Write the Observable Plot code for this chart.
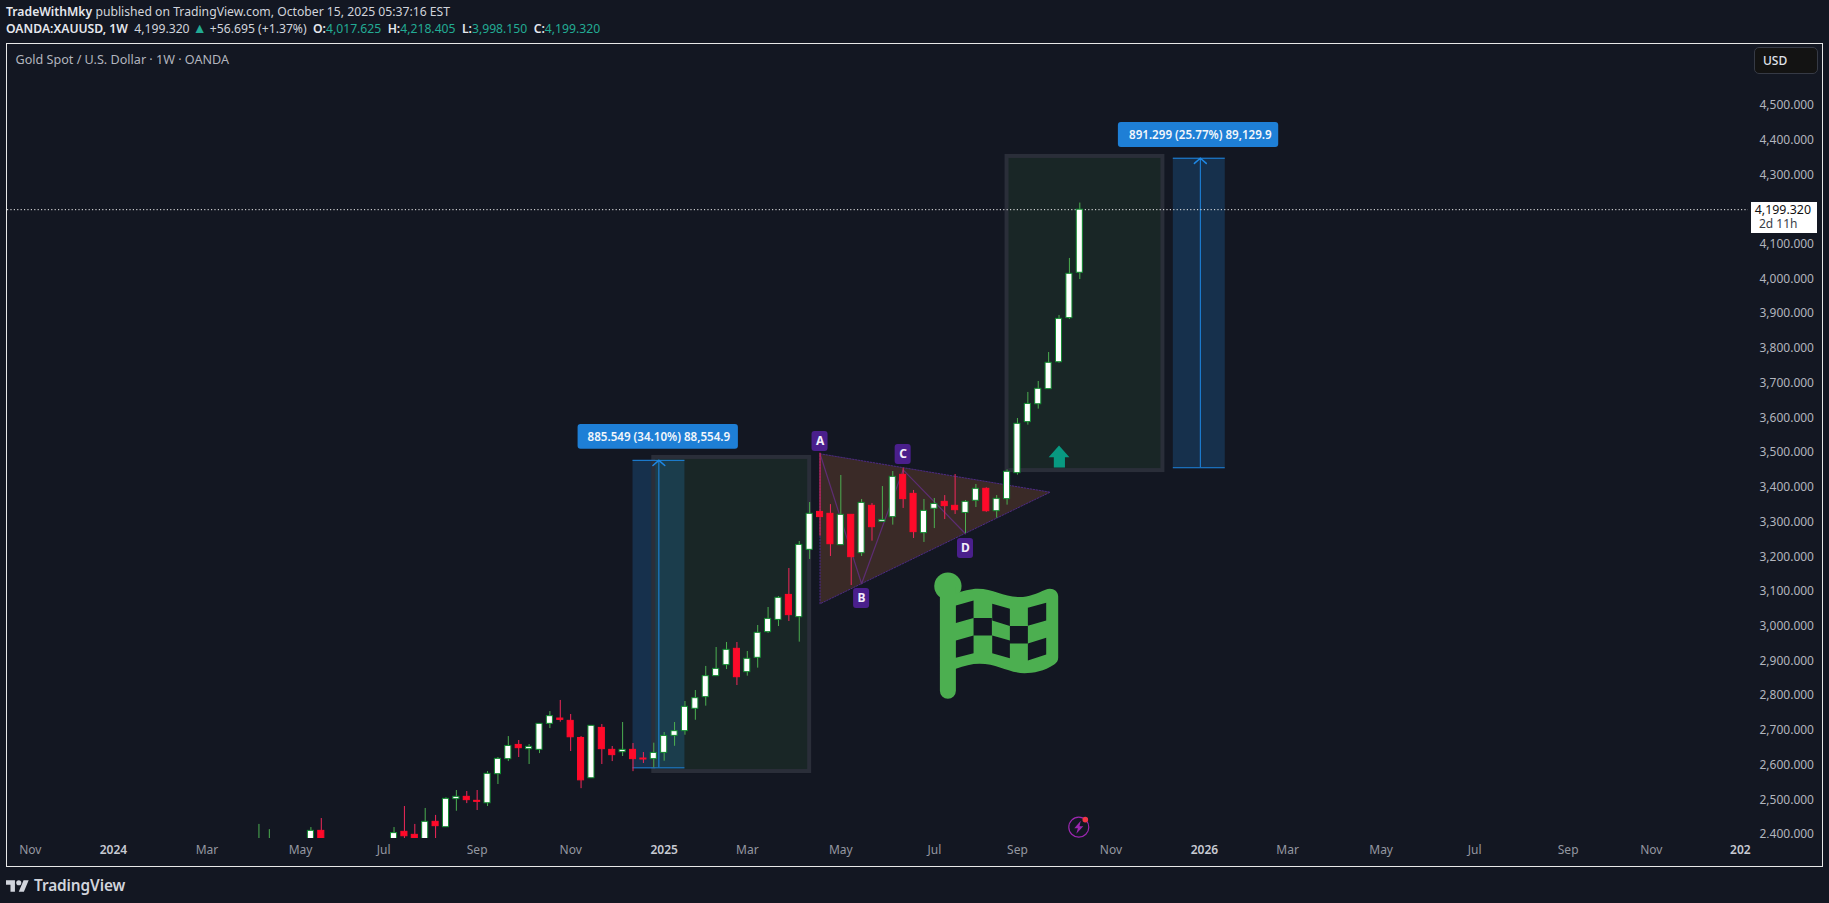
<!DOCTYPE html>
<html><head><meta charset="utf-8">
<script src="https://cdn.jsdelivr.net/npm/d3@7"></script>
<script src="https://cdn.jsdelivr.net/npm/@observablehq/plot@0.6"></script>
<style>
html,body{margin:0;padding:0;background:#131722;overflow:hidden;font-family:"Noto Sans",sans-serif}
#head{height:43px;position:relative;font-size:12.2px;color:#d1d4dc;white-space:nowrap}
#head div{position:absolute;left:6px}
#head b{font-weight:600;color:#e6e8ee}
#head .v{color:#22ab94}
#head .tri{color:#22ab94;font-size:14px;line-height:12px}
#pane{position:absolute;left:6px;top:43px;width:1815px;height:822px;border:1px solid #e8e8e8;background:#131722}
#pane svg{display:block}
.ov{position:absolute}
#foot{position:absolute;left:6px;top:875px;display:flex;align-items:center;color:#d1d4dc;font-size:15.4px;font-weight:600;letter-spacing:-.1px}
</style></head><body>
<div id="head">
<div style="top:3px"><b>TradeWithMky</b> published on TradingView.com, October 15, 2025 05:37:16 EST</div>
<div style="top:20px"><b>OANDA:XAUUSD, 1W</b>&nbsp;&nbsp;4,199.320 <span class="tri">▲</span> +56.695 (+1.37%) &nbsp;<b>O:</b><span class="v">4,017.625</span> &nbsp;<b>H:</b><span class="v">4,218.405</span> &nbsp;<b>L:</b><span class="v">3,998.150</span> &nbsp;<b>C:</b><span class="v">4,199.320</span></div>
</div>
<div id="pane"></div>
<div id="foot"><svg width="23" height="18" viewBox="0 3 36 20" style="margin-right:5px"><path fill="#d1d4dc" d="M14 22H7V11H0V4h14v18zM28 22h-8l7.5-18h8L28 22z"/><circle cx="20" cy="8" r="4" fill="#d1d4dc"/></svg>TradingView</div>
<script>
// ---------- weekly candles ----------
const weeks = ["2024-04-08","2024-04-15","2024-05-13","2024-05-20","2024-07-08","2024-07-15","2024-07-22","2024-07-29","2024-08-05","2024-08-12","2024-08-19","2024-08-26","2024-09-02","2024-09-09","2024-09-16","2024-09-23","2024-09-30","2024-10-07","2024-10-14","2024-10-21","2024-10-28","2024-11-04","2024-11-11","2024-11-18","2024-11-25","2024-12-02","2024-12-09","2024-12-16","2024-12-23","2024-12-30","2025-01-06","2025-01-13","2025-01-20","2025-01-27","2025-02-03","2025-02-10","2025-02-17","2025-02-24","2025-03-03","2025-03-10","2025-03-17","2025-03-24","2025-03-31","2025-04-07","2025-04-14","2025-04-21","2025-04-28","2025-05-05","2025-05-12","2025-05-19","2025-05-26","2025-06-02","2025-06-09","2025-06-16","2025-06-23","2025-06-30","2025-07-07","2025-07-14","2025-07-21","2025-07-28","2025-08-04","2025-08-11","2025-08-18","2025-08-25","2025-09-01","2025-09-08","2025-09-15","2025-09-22","2025-09-29","2025-10-06","2025-10-13"];
const opens = [2329,2344,2360,2410.5,2380,2407.7,2399,2386,2436.5,2421,2501.7,2508.5,2497,2490,2573.7,2617,2658,2645.7,2643.8,2718.7,2734,2727.3,2678,2562,2707,2643.8,2637,2643.8,2618.9,2617,2635,2684,2697.6,2762,2795.5,2856,2887.7,2934.7,2867.5,2908.8,2982.7,3018,3090,3025.9,3219.8,3329,3323.5,3233.3,3320.6,3210,3346.5,3300.5,3313.9,3435.8,3381,3267.8,3338,3358,3346.5,3326,3361,3395.5,3331,3365.7,3440.6,3587.5,3639,3682.5,3760,3887,4017.625];
const highs = [2429,2414,2420,2446,2420,2480.6,2429,2475,2455,2505.6,2526.7,2523.8,2526.7,2581.4,2621.7,2682,2670.7,2659,2718.7,2754,2786,2745.6,2682,2713,2716.8,2653.4,2722.5,2662,2636,2663,2693.7,2722.5,2783,2814.7,2884,2938.5,2953,2953,2927,3001.9,3053.7,3085.4,3166,3243.8,3356,3498,3350,3433.9,3320.6,3364.8,3353,3402,3445.4,3455,3390.7,3364.8,3367.7,3376,3436.8,3361.9,3408,3398.4,3376,3450,3598,3673,3704.6,3788,3894.7,4058.9,4218.405];
const lows = [2324,2324,2355,2325,2350,2385,2350,2354,2365,2421,2467,2489,2469,2480.6,2544,2610,2621.7,2601.6,2633,2705,2723.5,2639,2532,2562,2601.6,2610,2624.6,2581,2604.5,2592,2611,2654,2686,2729,2769.6,2856,2875,2829,2856,2879,2979,2999,3013.4,2954,3192,3259,3200.6,3233.3,3117,3200.6,3244.8,3300.5,3290.9,3339,3252.5,3241,3281,3307,3321.6,3266.9,3341.7,3328,3311,3348.5,3434.9,3578.9,3625,3682.5,3757,3883,3998.15];
const closes = [2344,2385,2410.5,2334,2404,2395,2386,2436.5,2424,2502.7,2508.5,2498.9,2494,2574.7,2617.9,2655,2648.6,2652.5,2718.7,2740.8,2730,2680,2556,2713,2645.7,2628.5,2643.8,2617,2616,2635,2684,2697.6,2767.7,2792.6,2856,2877,2931.8,2853,2906,2980.8,3021,3081.6,3031.7,3234,3323.5,3314,3236,3320.6,3198.7,3355,3285,3306,3430,3365.7,3270.7,3332,3352,3345.6,3334,3358,3395.5,3331,3366.7,3444.5,3582.7,3640,3683.5,3758.4,3885,4014.7,4199.32];

// ---------- axes ----------
const monthTicks = ["2023-11-06","2024-03-04","2024-05-06","2024-07-01","2024-09-02","2024-11-04","2025-03-03","2025-05-05","2025-07-07","2025-09-01","2025-11-03","2026-03-02","2026-05-04","2026-07-06","2026-09-07","2026-11-02"];
const monthLabels = ["Nov","Mar","May","Jul","Sep","Nov","Mar","May","Jul","Sep","Nov","Mar","May","Jul","Sep","Nov"];
const yearTicks = ["2024-01-01","2025-01-06","2026-01-05","2027-01-01"];
const yearLabels = ["2024","2025","2026","202"];
const priceTicks = [4500,4400,4300,4100,4000,3900,3800,3700,3600,3500,3400,3300,3200,3100,3000,2900,2800,2700,2600,2500,2400];
const lastPrice = 4199.32;

// ---------- drawings (dates and prices) ----------
const rangeStart = ["2024-12-16","2025-12-15"];
const rangeEnd = ["2025-01-20","2026-01-19"];
const rangeMid = ["2025-01-02T10:00Z","2026-01-02T05:00Z"];
const rangeLow = [2592,3456.2];
const rangeHigh = [3477.5,4347.5];
const rangeText = ["885.549 (34.10%) 88,554.9","891.299 (25.77%) 89,129.9"];
const tagStart = ["2024-11-09","2025-11-08"];
const tagEnd = ["2025-02-25","2026-02-24"];
const tagLow = [3509.6,4378.6];
const tagHigh = [3580.8,4450.6];
const boxStart = ["2024-12-30","2025-08-25"];
const boxEnd = ["2025-04-14","2025-12-08"];
const boxLow = [2581.4,3448];
const boxHigh = [3485.8,4352.6];
const triangleDates = ["2025-04-21","2025-09-23","2025-04-21","2025-04-21"];
const trianglePrices = [3496.4,3385.8,3064.4,3496.4];
const abcdDates = ["2025-04-21","2025-05-19","2025-06-16","2025-07-28"];
const abcdPrices = [3496.4,3122,3450,3266];
const abcdNames = ["A","B","C","D"];
const badgeDates = ["2025-04-21","2025-05-19","2025-06-16","2025-07-28"];
const badgePrices = [3531.8,3079.7,3494.4,3223.7];
const arrowDates = ["2025-09-29","2025-10-06","2025-10-03","2025-10-03","2025-09-25T12:00Z","2025-09-25T12:00Z","2025-09-22","2025-09-29"];
const arrowPrices = [3520.3,3486.6,3486.6,3457,3457,3486.6,3486.6,3520.3];

const DAY = 864e5;
const D = s => new Date(s);
const pts = (ds, ps) => ds.map((d, i) => ({date: D(d), price: ps[i]}));
const candles = weeks.map((w, i) => ({date: D(w), open: opens[i], high: highs[i], low: lows[i], close: closes[i]}));
const up = candles.filter(c => c.close >= c.open);
const down = candles.filter(c => c.close < c.open);
const ranges = rangeStart.map((s, i) => ({s: D(s), e: D(rangeEnd[i]), m: D(rangeMid[i]), lo: rangeLow[i], hi: rangeHigh[i], text: rangeText[i], ts: D(tagStart[i]), te: D(tagEnd[i]), tl: tagLow[i], th: tagHigh[i]}));
const boxes = boxStart.map((s, i) => ({s: D(s), e: D(boxEnd[i]), lo: boxLow[i], hi: boxHigh[i]}));
const badges = badgeDates.map((d, i) => ({date: D(d), price: badgePrices[i], name: abcdNames[i]}));
const chevrons = ranges.map(r => [{date: new Date(+r.m - 4 * DAY), price: r.hi - 15, k: r.hi}, {date: r.m, price: r.hi, k: r.hi}, {date: new Date(+r.m + 4 * DAY), price: r.hi - 15, k: r.hi}]).flat();

const flagSvg = `<svg xmlns="http://www.w3.org/2000/svg" viewBox="100 30 385 395"><circle cx="145" cy="77" r="41" fill="#4caf50"/><path fill="#4caf50" fill-rule="evenodd" d="M121 80h48v20c18-8 44-15 66-15 46 0 78 25 125 25 28 0 52-11 78-22 18-8 38 2 38 20v183c0 10-4 15-12 21-30 20-62 26-89 26-48 0-80-28-135-28-24 0-46 6-71 15v66a24 24 0 0 1-48 0ZM169 135v53l53-15v-53ZM278 130v50l53 17v-52ZM385 142v54l55-16v-53ZM222 173v52h55v-52ZM331 197v52h54v-52ZM169 240v52l53-14v-53ZM278 225v53l53 15v-53ZM385 249v51l55-18v-50Z"/></svg>`;
const boltSvg = `<svg xmlns="http://www.w3.org/2000/svg" viewBox="0 0 26 26"><circle cx="12" cy="14" r="10" fill="none" stroke="#9c27b0" stroke-width="1.2"/><path fill="#9c27b0" d="M14 7.5 7.5 15h3.6L9.5 20.5 16.5 13h-3.8z"/><circle cx="18.5" cy="6.5" r="2.8" fill="#f23645"/></svg>`;
const uri = s => "data:image/svg+xml;utf8," + encodeURIComponent(s);
const flagRow = [{date: D("2025-08-18T06:00Z"), price: 2970.8}];
const boltRow = [{date: D("2025-10-13"), price: 2424}];

const FONT = "'Noto Sans',sans-serif", GRAY = "#b2b5be";
const chart = Plot.plot({
  width: 1815, height: 822,
  marginLeft: 0, marginRight: 74, marginTop: 0, marginBottom: 28,
  style: {background: "transparent", fontFamily: FONT, fontSize: "12px", color: GRAY},
  x: {type: "utc", domain: [D("2023-10-21T14:24Z"), D("2027-01-06T12:00Z")]},
  y: {domain: [2388.5, 4675]},
  marks: [
    Plot.axisX(monthTicks.map(D), {anchor: "bottom", tickSize: 0, tickPadding: 7, fill: "#9598a1", fontSize: 12, tickFormat: d => monthLabels[monthTicks.findIndex(t => +D(t) === +d)], label: null}),
    Plot.axisX(yearTicks.map(D), {anchor: "bottom", tickSize: 0, tickPadding: 7, fill: "#c8cbd3", fontWeight: 600, fontSize: 12, tickFormat: d => yearLabels[yearTicks.findIndex(t => +D(t) === +d)], label: null}),
    Plot.axisY(priceTicks, {anchor: "right", tickSize: 0, tickPadding: 11, fill: GRAY, fontSize: 12, tickFormat: d3.format(",.3f"), label: null}),
    Plot.text(["Gold Spot / U.S. Dollar · 1W · OANDA"], {frameAnchor: "top-left", dx: 8, dy: 10.5, fill: GRAY, fontSize: 12.6, text: d => d}),

    // ranges and boxes
    Plot.rect(ranges, {x1: "s", x2: "e", y1: "lo", y2: "hi", fill: "#2196f3", fillOpacity: 0.2}),
    Plot.rect(boxes, {x1: "s", x2: "e", y1: "lo", y2: "hi", fill: "#4caf50", fillOpacity: 0.1, stroke: "#2a2e39", strokeWidth: 4}),
    Plot.ruleY(ranges, {y: "hi", x1: "s", x2: "e", stroke: "#1e88e5"}),
    Plot.ruleY(ranges, {y: "lo", x1: "s", x2: "e", stroke: "#1e88e5"}),
    Plot.ruleX(ranges, {x: "m", y1: "lo", y2: "hi", stroke: "#1e88e5"}),
    Plot.line(chevrons, {x: "date", y: "price", z: "k", stroke: "#1e88e5"}),

    // triangle + ABCD pattern
    Plot.line(pts(triangleDates, trianglePrices), {x: "date", y: "price", fill: "#3a2a27", stroke: "#4d2a85", strokeWidth: 1, strokeDasharray: "1.5,1.5"}),
    Plot.line(pts(abcdDates, abcdPrices), {x: "date", y: "price", stroke: "#5d2d73", strokeWidth: 1.2}),

    // last price line
    Plot.ruleY([lastPrice], {stroke: "#f0f0f0", strokeWidth: 1, strokeDasharray: "1.2,2.2"}),

    // candles
    Plot.ruleX(up, {x: "date", y1: "low", y2: "high", stroke: "#4caf50", strokeWidth: 1, clip: true}),
    Plot.ruleX(down, {x: "date", y1: "low", y2: "high", stroke: "#f2285a", strokeWidth: 1, clip: true}),
    Plot.rect(up, {x1: d => new Date(+d.date - 2.05 * DAY), x2: d => new Date(+d.date + 2.05 * DAY), y1: "open", y2: "close", fill: "#ffffff", stroke: "#0f8a2e", strokeWidth: 1, clip: true}),
    Plot.rect(down, {x1: d => new Date(+d.date - 2.05 * DAY), x2: d => new Date(+d.date + 2.05 * DAY), y1: "open", y2: "close", fill: "#ff0a2a", stroke: "#ff0a2a", strokeWidth: 1, clip: true}),

    // annotations on top
    Plot.line(pts(arrowDates, arrowPrices), {x: "date", y: "price", fill: "#089981", stroke: "none"}),
    Plot.image(flagRow, {x: "date", y: "price", width: 128.3, height: 131.7, src: () => uri(flagSvg), preserveAspectRatio: "none"}),
    Plot.image(boltRow, {x: "date", y: "price", width: 26, height: 26, src: () => uri(boltSvg)}),
    Plot.rect(badges, {x1: d => new Date(+d.date - 5.4 * DAY), x2: d => new Date(+d.date + 5.4 * DAY), y1: d => d.price - 29, y2: d => d.price + 29, fill: "#4a1f8c", rx: 3}),
    Plot.text(badges, {x: "date", y: "price", text: "name", fill: "#f2eefa", fontWeight: 700, fontSize: 12}),
    Plot.rect(ranges, {x1: "ts", x2: "te", y1: "tl", y2: "th", fill: "#1e7fd6", rx: 3}),
    Plot.text(ranges, {x: "m", y: d => (d.tl + d.th) / 2, text: "text", fill: "#f2f6fb", fontWeight: 600, fontSize: 11.6})
  ]
});
const pane = document.getElementById("pane");
pane.appendChild(chart);
function overlay(html, css) { const e = document.createElement("div"); e.className = "ov"; e.style.cssText = css; e.innerHTML = html; pane.appendChild(e); }
overlay("USD", "left:1747px;top:3px;width:64px;height:27px;box-sizing:border-box;background:#131313;border:1px solid #363a45;border-radius:5px;color:#e0e3eb;font-size:12px;font-weight:500;line-height:25px;padding-left:8px");
overlay('<div style="position:absolute;right:6px;top:0;font-size:12.4px;line-height:16px;color:#111">4,199.320</div><div style="position:absolute;left:8px;top:14px;font-size:12px;line-height:16px;color:#3a3e48">2d 11h</div>', "left:1744px;top:158px;width:66px;height:31px;background:#fff");
overlay("", "left:1745px;top:794px;width:68px;height:4px;background:#131722");
</script>
</body></html>
